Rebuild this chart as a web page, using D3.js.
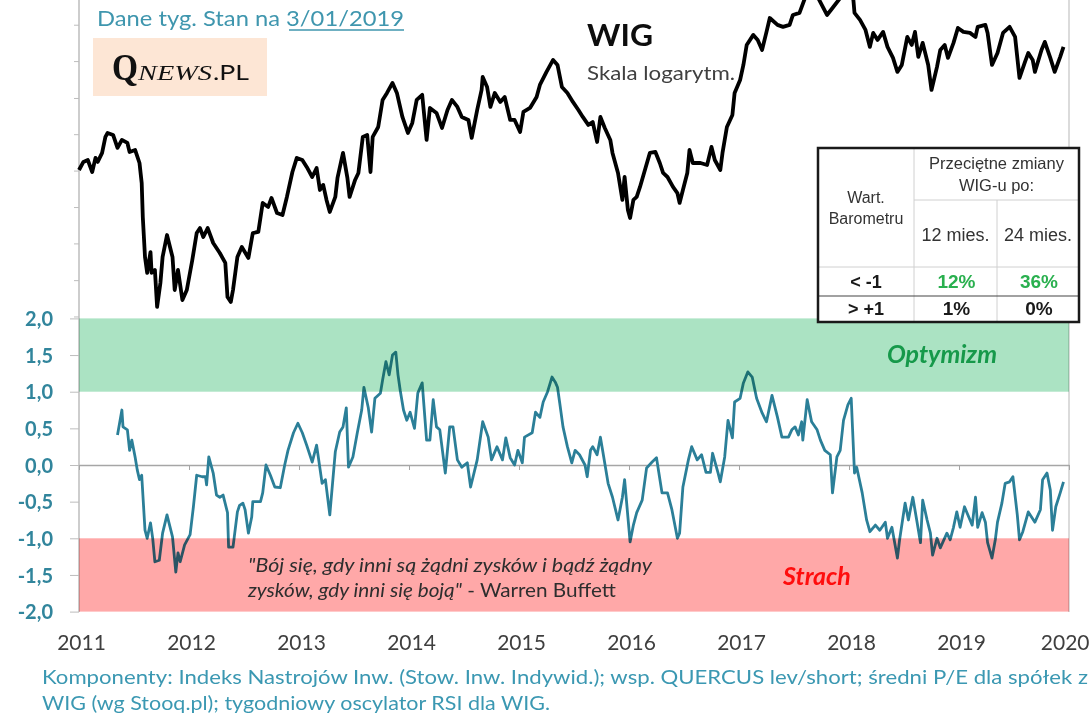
<!DOCTYPE html>
<html>
<head>
<meta charset="utf-8">
<script src="https://cdn.jsdelivr.net/npm/d3@7"></script>
<style>
  body { margin: 0; background: #fff; }
  svg { display: block; }
</style>
</head>
<body>
<div id="chart"></div>
<script>
// WIG weekly close (log scale), [year, value]
const wigData = [
  [2011.00,46950],[2011.04,47640],[2011.08,47810],[2011.12,46780],[2011.15,47990],[2011.17,47640],[2011.21,48430],[2011.24,49850],
  [2011.26,50210],[2011.31,50030],[2011.35,48870],[2011.39,49580],[2011.44,49310],[2011.46,48510],[2011.51,48690],[2011.55,47550],
  [2011.57,45860],[2011.58,43110],[2011.60,40100],[2011.62,38960],[2011.65,40460],[2011.66,38960],[2011.69,39170],[2011.71,36630],
  [2011.74,38250],[2011.76,40100],[2011.80,41730],[2011.85,40100],[2011.87,37770],[2011.90,39170],[2011.94,37090],[2011.98,37770],
  [2012.03,39880],[2012.07,41880],[2012.10,42260],[2012.13,41580],[2012.17,42260],[2012.22,41130],[2012.28,40390],[2012.33,39670],
  [2012.35,37290],[2012.38,36960],[2012.40,37770],[2012.44,40100],[2012.48,40830],[2012.54,40030],[2012.58,41880],[2012.63,41960],
  [2012.67,44230],[2012.72,43910],[2012.75,44630],[2012.80,43430],[2012.85,43270],[2012.89,44710],[2012.94,46780],[2012.98,47990],
  [2013.03,47810],[2013.07,47210],[2013.12,46360],[2013.16,47120],[2013.19,45280],[2013.22,45700],[2013.25,44470],[2013.28,43510],
  [2013.33,44710],[2013.35,46280],[2013.40,48430],[2013.44,46280],[2013.46,44710],[2013.51,46110],[2013.54,46700],[2013.58,49850],
  [2013.62,50030],[2013.65,46780],[2013.67,49850],[2013.72,50760],[2013.76,53310],[2013.80,53990],[2013.85,54980],[2013.89,53990],
  [2013.94,51690],[2013.99,50210],[2014.03,51130],[2014.07,53310],[2014.12,53800],[2014.16,49580],[2014.19,52540],[2014.25,52070],
  [2014.30,50670],[2014.35,52350],[2014.39,53310],[2014.44,52640],[2014.48,51690],[2014.54,51410],[2014.57,49760],[2014.62,52350],
  [2014.66,54285],[2014.67,55580],[2014.71,54580],[2014.74,52640],[2014.78,53990],[2014.83,53120],[2014.87,53600],[2014.92,51410],
  [2014.96,51410],[2015.01,50300],[2015.04,52160],[2015.10,52540],[2015.16,53600],[2015.19,54780],[2015.25,56090],[2015.31,57320],
  [2015.35,56800],[2015.39,54580],[2015.44,53990],[2015.49,53120],[2015.54,52350],[2015.58,51690],[2015.63,50950],[2015.67,51220],
  [2015.71,49400],[2015.74,51690],[2015.78,50670],[2015.83,49580],[2015.85,48430],[2015.90,46700],[2015.94,44470],[2015.96,46360],
  [2015.99,43670],[2016.01,43040],[2016.04,44470],[2016.07,44710],[2016.10,45530],[2016.15,47120],[2016.19,48430],[2016.24,48510],
  [2016.28,47550],[2016.31,46700],[2016.35,46360],[2016.40,45530],[2016.44,45030],[2016.46,44230],[2016.49,45280],[2016.53,46700],
  [2016.55,48690],[2016.58,47550],[2016.65,47550],[2016.71,47380],[2016.75,48960],[2016.78,47810],[2016.83,46950],[2016.85,48430],
  [2016.89,50760],[2016.94,51880],[2016.96,53990],[2017.01,55275],[2017.04,56800],[2017.07,58900],[2017.13,59980],[2017.17,59440],
  [2017.21,58370],[2017.25,60310],[2017.28,61850],[2017.35,61080],[2017.40,60860],[2017.46,61080],[2017.49,62190],[2017.55,62420],
  [2017.60,64130],[2017.66,65700],[2017.72,64130],[2017.80,62190],[2017.85,62980],[2017.92,64130],[2017.98,65700],[2018.04,63900],
  [2018.05,62420],[2018.10,61630],[2018.15,60525],[2018.19,58690],[2018.22,60200],[2018.26,59440],[2018.31,60310],[2018.35,58690],
  [2018.40,57530],[2018.44,56090],[2018.48,56800],[2018.53,59760],[2018.57,58900],[2018.60,60310],[2018.63,57640],[2018.67,59120],
  [2018.72,56800],[2018.75,54285],[2018.80,56600],[2018.83,58370],[2018.87,58900],[2018.90,57530],[2018.95,59120],[2018.99,60745],
  [2019.04,60310],[2019.10,60200],[2019.15,59760],[2019.17,60860],[2019.24,61080],[2019.26,60200],[2019.30,56800],[2019.35,58050],
  [2019.40,60200],[2019.46,60860],[2019.51,59760],[2019.55,55480],[2019.60,57110],[2019.63,58050],[2019.67,57320],[2019.69,56090],
  [2019.75,58370],[2019.78,59230],[2019.83,57530],[2019.87,56090],[2019.92,57640],[2019.95,58690]
];

// barometer oscillator, [year, value]
const oscData = [
  [2011.35,0.41],[2011.39,0.75],[2011.40,0.52],[2011.44,0.48],[2011.46,0.20],[2011.48,0.34],[2011.51,0.11],[2011.53,-0.07],
  [2011.55,-0.20],[2011.57,-0.14],[2011.60,-0.89],[2011.62,-1.00],[2011.65,-0.79],[2011.67,-1.00],[2011.69,-1.32],[2011.73,-1.30],
  [2011.76,-0.93],[2011.80,-0.68],[2011.85,-0.98],[2011.88,-1.46],[2011.90,-1.20],[2011.92,-1.32],[2011.96,-1.09],[2012.01,-0.95],
  [2012.04,-0.57],[2012.07,-0.14],[2012.12,-0.16],[2012.15,-0.16],[2012.16,-0.27],[2012.18,0.11],[2012.22,-0.11],[2012.25,-0.41],
  [2012.28,-0.44],[2012.31,-0.41],[2012.35,-0.65],[2012.36,-1.12],[2012.40,-1.12],[2012.44,-0.64],[2012.46,-0.55],[2012.49,-0.52],
  [2012.51,-0.61],[2012.54,-0.93],[2012.57,-0.71],[2012.58,-0.50],[2012.65,-0.50],[2012.67,-0.38],[2012.70,0.00],[2012.74,-0.14],
  [2012.78,-0.30],[2012.83,-0.31],[2012.87,0.00],[2012.90,0.20],[2012.95,0.44],[2012.99,0.57],[2013.03,0.44],[2013.07,0.27],
  [2013.12,0.04],[2013.16,0.27],[2013.21,-0.25],[2013.24,-0.20],[2013.28,-0.68],[2013.33,0.18],[2013.37,0.45],[2013.40,0.52],
  [2013.43,0.78],[2013.45,-0.03],[2013.49,0.11],[2013.53,0.44],[2013.57,0.75],[2013.59,1.06],[2013.63,0.78],[2013.66,0.45],
  [2013.69,0.91],[2013.74,0.98],[2013.76,1.16],[2013.79,1.41],[2013.82,1.23],[2013.85,1.50],[2013.88,1.54],[2013.90,1.23],
  [2013.92,1.02],[2013.95,0.75],[2013.98,0.61],[2014.01,0.72],[2014.03,0.61],[2014.05,0.50],[2014.08,0.98],[2014.12,1.12],
  [2014.16,0.34],[2014.19,0.34],[2014.22,0.89],[2014.25,0.52],[2014.28,0.48],[2014.33,-0.11],[2014.37,0.52],[2014.40,0.52],
  [2014.44,0.07],[2014.48,-0.03],[2014.53,0.03],[2014.56,-0.30],[2014.62,0.07],[2014.67,0.59],[2014.72,0.38],[2014.75,0.07],
  [2014.80,0.25],[2014.85,0.07],[2014.88,0.37],[2014.92,0.10],[2014.96,0.00],[2014.99,0.20],[2015.03,0.03],[2015.05,0.38],
  [2015.12,0.44],[2015.15,0.72],[2015.19,0.65],[2015.22,0.86],[2015.26,1.00],[2015.30,1.20],[2015.33,1.13],[2015.35,1.06],
  [2015.37,0.85],[2015.40,0.52],[2015.44,0.25],[2015.48,0.03],[2015.51,0.20],[2015.55,0.14],[2015.60,0.00],[2015.62,-0.16],
  [2015.65,0.20],[2015.67,0.25],[2015.71,0.14],[2015.74,0.38],[2015.76,0.20],[2015.81,-0.25],[2015.85,-0.44],[2015.90,-0.75],
  [2015.94,-0.44],[2015.96,-0.20],[2016.01,-1.05],[2016.04,-0.82],[2016.07,-0.65],[2016.12,-0.48],[2016.16,-0.04],[2016.21,0.04],
  [2016.25,0.10],[2016.30,-0.38],[2016.35,-0.38],[2016.39,-0.61],[2016.44,-1.00],[2016.46,-0.93],[2016.49,-0.30],[2016.54,0.07],
  [2016.57,0.25],[2016.62,0.07],[2016.66,0.14],[2016.70,-0.10],[2016.74,-0.10],[2016.76,0.16],[2016.81,-0.11],[2016.83,-0.23],
  [2016.87,0.11],[2016.90,0.61],[2016.94,0.37],[2016.96,0.86],[2017.01,0.91],[2017.04,1.12],[2017.08,1.27],[2017.12,1.20],
  [2017.16,0.91],[2017.21,0.71],[2017.25,0.59],[2017.30,0.95],[2017.35,0.65],[2017.39,0.38],[2017.45,0.38],[2017.48,0.48],
  [2017.51,0.52],[2017.54,0.41],[2017.57,0.59],[2017.58,0.34],[2017.62,0.89],[2017.66,0.59],[2017.71,0.48],[2017.74,0.34],
  [2017.78,0.20],[2017.83,0.14],[2017.85,-0.38],[2017.89,0.11],[2017.92,0.20],[2017.95,0.61],[2017.99,0.82],[2018.02,0.91],
  [2018.05,-0.11],[2018.07,-0.03],[2018.12,-0.38],[2018.16,-0.75],[2018.19,-0.91],[2018.24,-0.82],[2018.28,-0.89],[2018.33,-0.78],
  [2018.35,-1.00],[2018.39,-0.85],[2018.44,-1.27],[2018.46,-1.02],[2018.51,-0.52],[2018.54,-0.75],[2018.58,-0.44],[2018.62,-0.79],
  [2018.65,-1.06],[2018.67,-0.48],[2018.71,-0.75],[2018.74,-0.93],[2018.76,-1.23],[2018.80,-1.00],[2018.83,-1.13],[2018.89,-0.93],
  [2018.92,-1.02],[2018.95,-0.85],[2018.98,-0.64],[2019.01,-0.85],[2019.05,-0.57],[2019.08,-0.68],[2019.12,-0.82],[2019.15,-0.44],
  [2019.17,-0.85],[2019.21,-0.65],[2019.24,-0.78],[2019.26,-1.06],[2019.30,-1.27],[2019.33,-1.02],[2019.35,-0.78],[2019.39,-0.52],
  [2019.42,-0.25],[2019.46,-0.23],[2019.49,-0.16],[2019.53,-0.68],[2019.55,-1.02],[2019.58,-0.91],[2019.63,-0.64],[2019.69,-0.78],
  [2019.74,-0.61],[2019.76,-0.20],[2019.80,-0.11],[2019.83,-0.34],[2019.85,-0.89],[2019.88,-0.57],[2019.92,-0.38],[2019.95,-0.23]
];

const years = [2011, 2012, 2013, 2014, 2015, 2016, 2017, 2018, 2019, 2020];
const oscTicks = [-2, -1.5, -1, -0.5, 0, 0.5, 1, 1.5, 2];
const wigTicks = [36000, 38450, 41100, 43900, 46900, 50100, 53500, 57200, 61100];
const optimismBand = [1, 2];
const fearBand = [-2, -1];

const tableHeader = ["Przeciętne zmiany", "WIG-u po:"];
const tableFirstCol = ["Wart.", "Barometru"];
const tableHorizons = ["12 mies.", "24 mies."];
const tableRows = [
  { label: "< -1", m12: "12%", m24: "36%", good: true },
  { label: "> +1", m12: "1%", m24: "0%", good: false }
];

const width = 1091, height = 718;
const teal = "#31859c";

const x = d3.scaleLinear().domain([2011, 2020]).range([79, 1069]);
const yOsc = d3.scaleLinear().domain([-2, 2]).range([611.6, 318.4]);
const yWig = d3.scaleLog().domain([35900, 63900]).range([318, 0]);

const svg = d3.select("#chart")
  .append("svg")
  .attr("width", width)
  .attr("height", height)
  .style("font-family", "Lato, sans-serif");

svg.append("rect").attr("width", width).attr("height", height).attr("fill", "#fff");

// frame lines
svg.append("line")
  .attr("x1", 1069).attr("x2", 1069).attr("y1", 0).attr("y2", 612)
  .attr("stroke", "#cfcfcf").attr("stroke-width", 1.5);
svg.append("line")
  .attr("x1", 79).attr("x2", 79).attr("y1", 0).attr("y2", 612)
  .attr("stroke", "#bdbdbd").attr("stroke-width", 1.5);

// WIG axis ticks (no labels)
const axisWig = d3.axisLeft(yWig).tickValues(wigTicks).tickSize(5).tickSizeOuter(0).tickFormat("");
svg.append("g")
  .attr("class", "axis_wig")
  .attr("transform", "translate(79,0)")
  .call(axisWig)
  .call(g => g.select(".domain").remove())
  .call(g => g.selectAll("line").attr("stroke", "#bdbdbd"));

// oscillator axis
const axisY = d3.axisLeft(yOsc)
  .tickValues(oscTicks)
  .tickSize(9)
  .tickSizeOuter(0)
  .tickPadding(17)
  .tickFormat(d => d3.format(".1f")(d).replace(".", ",").replace("\u2212", "-"));
svg.append("g")
  .attr("class", "axis_y")
  .attr("transform", "translate(79,0)")
  .call(axisY)
  .call(g => g.select(".domain").remove())
  .call(g => g.selectAll("line").attr("stroke", "#bdbdbd"))
  .call(g => g.selectAll("text")
    .attr("fill", teal)
    .attr("font-size", 20)
    .attr("font-weight", "bold")
    .attr("font-family", "Lato, sans-serif")
    .attr("dy", "0.36em"));

// zero line with year ticks, labels at bottom
const axisX = d3.axisBottom(x).tickValues(years).tickSize(5).tickSizeOuter(0).tickFormat(d3.format("d"));
svg.append("g")
  .attr("class", "axis_x")
  .attr("transform", `translate(0,${yOsc(0)})`)
  .call(axisX)
  .call(g => g.select(".domain").attr("stroke", "#a6a6a6").attr("stroke-width", 1.5))
  .call(g => g.selectAll("line").attr("stroke", "#a6a6a6"))
  .call(g => g.selectAll("text")
    .attr("y", 650 - yOsc(0))
    .attr("dy", null)
    .attr("dx", d => d === 2020 ? 20 : 2)
    .attr("text-anchor", d => d === 2020 ? "end" : "middle")
    .attr("fill", "#3f3f3f")
    .attr("font-size", 21)
    .attr("font-family", "Lato, sans-serif"));

// oscillator line
const oscLine = d3.line().x(d => x(d[0])).y(d => yOsc(d[1]));
svg.append("path")
  .datum(oscData)
  .attr("d", oscLine)
  .attr("fill", "none")
  .attr("stroke", "#2b7f98")
  .attr("stroke-width", 2.8)
  .attr("stroke-linejoin", "round");

// bands on top of the line, multiplied so the line shows through darker
svg.append("rect")
  .attr("x", x(2011)).attr("width", x(2020) - x(2011))
  .attr("y", yOsc(optimismBand[1])).attr("height", yOsc(optimismBand[0]) - yOsc(optimismBand[1]))
  .attr("fill", "#abe3c3").style("mix-blend-mode", "multiply");
svg.append("rect")
  .attr("x", x(2011)).attr("width", x(2020) - x(2011))
  .attr("y", yOsc(fearBand[1])).attr("height", yOsc(fearBand[0]) - yOsc(fearBand[1]))
  .attr("fill", "#ffa8a8").style("mix-blend-mode", "multiply");

// WIG line
const wigLine = d3.line().x(d => x(d[0])).y(d => yWig(d[1]));
svg.append("path")
  .datum(wigData)
  .attr("d", wigLine)
  .attr("fill", "none")
  .attr("stroke", "#000")
  .attr("stroke-width", 3.8)
  .attr("stroke-linejoin", "round");

// header texts
svg.append("text")
  .attr("x", 97).attr("y", 26)
  .attr("font-size", 22).attr("fill", "#3f96ae")
  .attr("textLength", 307).attr("lengthAdjust", "spacingAndGlyphs")
  .text("Dane tyg. Stan na 3/01/2019");
svg.append("line")
  .attr("x1", 289).attr("x2", 404).attr("y1", 30).attr("y2", 30)
  .attr("stroke", "#3f96ae").attr("stroke-width", 1.5);

svg.append("rect")
  .attr("x", 93).attr("y", 38).attr("width", 174).attr("height", 58)
  .attr("fill", "#fde6d5");
svg.append("text")
  .attr("x", 112).attr("y", 80)
  .attr("font-family", "Liberation Serif, serif").attr("font-size", 38).attr("font-weight", "bold")
  .attr("fill", "#111")
  .attr("textLength", 26).attr("lengthAdjust", "spacingAndGlyphs")
  .text("Q");
svg.append("text")
  .attr("x", 138).attr("y", 80)
  .attr("font-family", "Liberation Serif, serif").attr("font-size", 22).attr("font-style", "italic")
  .attr("fill", "#111")
  .attr("textLength", 74).attr("lengthAdjust", "spacingAndGlyphs")
  .text("NEWS");
svg.append("text")
  .attr("x", 213).attr("y", 80)
  .attr("font-size", 22).attr("fill", "#111")
  .attr("textLength", 36).attr("lengthAdjust", "spacingAndGlyphs")
  .text(".PL");

svg.append("text")
  .attr("x", 587).attr("y", 46)
  .attr("font-size", 31).attr("font-weight", "bold").attr("fill", "#0d0d0d")
  .attr("textLength", 66).attr("lengthAdjust", "spacingAndGlyphs")
  .text("WIG");
svg.append("text")
  .attr("x", 587).attr("y", 80)
  .attr("font-size", 19).attr("fill", "#404040")
  .attr("textLength", 148).attr("lengthAdjust", "spacingAndGlyphs")
  .text("Skala logarytm.");

// band labels
svg.append("text")
  .attr("x", 942).attr("y", 363).attr("text-anchor", "middle")
  .attr("font-size", 25).attr("font-weight", "bold").attr("font-style", "italic")
  .attr("fill", "#16994a")
  .text("Optymizm");
svg.append("text")
  .attr("x", 817).attr("y", 585).attr("text-anchor", "middle")
  .attr("font-size", 25).attr("font-weight", "bold").attr("font-style", "italic")
  .attr("fill", "#ff0d0d")
  .text("Strach");

// quote
svg.append("text")
  .attr("x", 248).attr("y", 572)
  .attr("font-size", 19).attr("font-style", "italic").attr("fill", "#2e2e2e")
  .attr("textLength", 404).attr("lengthAdjust", "spacingAndGlyphs")
  .text("\"Bój się, gdy inni są żądni zysków i bądź żądny");
const q2 = svg.append("text")
  .attr("x", 248).attr("y", 597)
  .attr("font-size", 19).attr("fill", "#2e2e2e")
  .attr("textLength", 368).attr("lengthAdjust", "spacingAndGlyphs");
q2.append("tspan").attr("font-style", "italic").text("zysków, gdy inni się boją\"");
q2.append("tspan").text(" - Warren Buffett");

// footer
svg.append("text")
  .attr("x", 42).attr("y", 684)
  .attr("font-size", 20).attr("fill", "#3b98b2")
  .attr("textLength", 1046).attr("lengthAdjust", "spacingAndGlyphs")
  .text("Komponenty: Indeks Nastrojów Inw. (Stow. Inw. Indywid.); wsp. QUERCUS lev/short; średni P/E dla spółek z");
svg.append("text")
  .attr("x", 42).attr("y", 710)
  .attr("font-size", 20).attr("fill", "#3b98b2")
  .attr("textLength", 508).attr("lengthAdjust", "spacingAndGlyphs")
  .text("WIG (wg Stooq.pl); tygodniowy oscylator RSI dla WIG.");

// table
const tb = { x0: 818, x1: 914, x2: 997, x3: 1079, y0: 148, y1: 200, y2: 267, y3: 296, y4: 322 };
const table = svg.append("g").attr("class", "table").style("font-family", "Liberation Sans, Arial, sans-serif");
table.append("rect")
  .attr("x", tb.x0).attr("y", tb.y0).attr("width", tb.x3 - tb.x0).attr("height", tb.y4 - tb.y0)
  .attr("fill", "#fff");
const grid = [
  [tb.x1, tb.y0, tb.x1, tb.y4], [tb.x2, tb.y1, tb.x2, tb.y4],
  [tb.x1, tb.y1, tb.x3, tb.y1], [tb.x0, tb.y2, tb.x3, tb.y2]
];
table.selectAll("line.grid").data(grid).enter().append("line")
  .attr("class", "grid")
  .attr("x1", d => d[0]).attr("y1", d => d[1]).attr("x2", d => d[2]).attr("y2", d => d[3])
  .attr("stroke", "#d0d0d0").attr("stroke-width", 1);
table.append("line")
  .attr("x1", tb.x0).attr("x2", tb.x3).attr("y1", tb.y3).attr("y2", tb.y3)
  .attr("stroke", "#444").attr("stroke-width", 1.2);
table.append("rect")
  .attr("x", tb.x0).attr("y", tb.y0).attr("width", tb.x3 - tb.x0).attr("height", tb.y4 - tb.y0)
  .attr("fill", "none").attr("stroke", "#1a1a1a").attr("stroke-width", 2.5);

table.selectAll("text.head").data(tableHeader).enter().append("text")
  .attr("class", "head")
  .attr("x", (tb.x1 + tb.x3) / 2).attr("y", (d, i) => 169 + i * 22)
  .attr("text-anchor", "middle").attr("font-size", 16.5).attr("fill", "#333")
  .text(d => d);
table.selectAll("text.first").data(tableFirstCol).enter().append("text")
  .attr("class", "first")
  .attr("x", (tb.x0 + tb.x1) / 2).attr("y", (d, i) => 203 + i * 21)
  .attr("text-anchor", "middle").attr("font-size", 16).attr("fill", "#333")
  .text(d => d);
table.selectAll("text.hor").data(tableHorizons).enter().append("text")
  .attr("class", "hor")
  .attr("x", (d, i) => i === 0 ? (tb.x1 + tb.x2) / 2 : (tb.x2 + tb.x3) / 2).attr("y", 241)
  .attr("text-anchor", "middle").attr("font-size", 18).attr("fill", "#333")
  .text(d => d);

const rowY = [288, 315];
tableRows.forEach((r, i) => {
  table.append("text")
    .attr("x", (tb.x0 + tb.x1) / 2).attr("y", rowY[i])
    .attr("text-anchor", "middle").attr("font-size", 18).attr("font-weight", "bold").attr("fill", "#1a1a1a")
    .text(r.label);
  [r.m12, r.m24].forEach((v, j) => {
    table.append("text")
      .attr("x", j === 0 ? (tb.x1 + tb.x2) / 2 + 1 : (tb.x2 + tb.x3) / 2 + 1).attr("y", rowY[i])
      .attr("text-anchor", "middle").attr("font-size", 19).attr("font-weight", "bold")
      .attr("fill", r.good ? "#2ab04f" : "#1a1a1a")
      .text(v);
  });
});
</script>
</body>
</html>
